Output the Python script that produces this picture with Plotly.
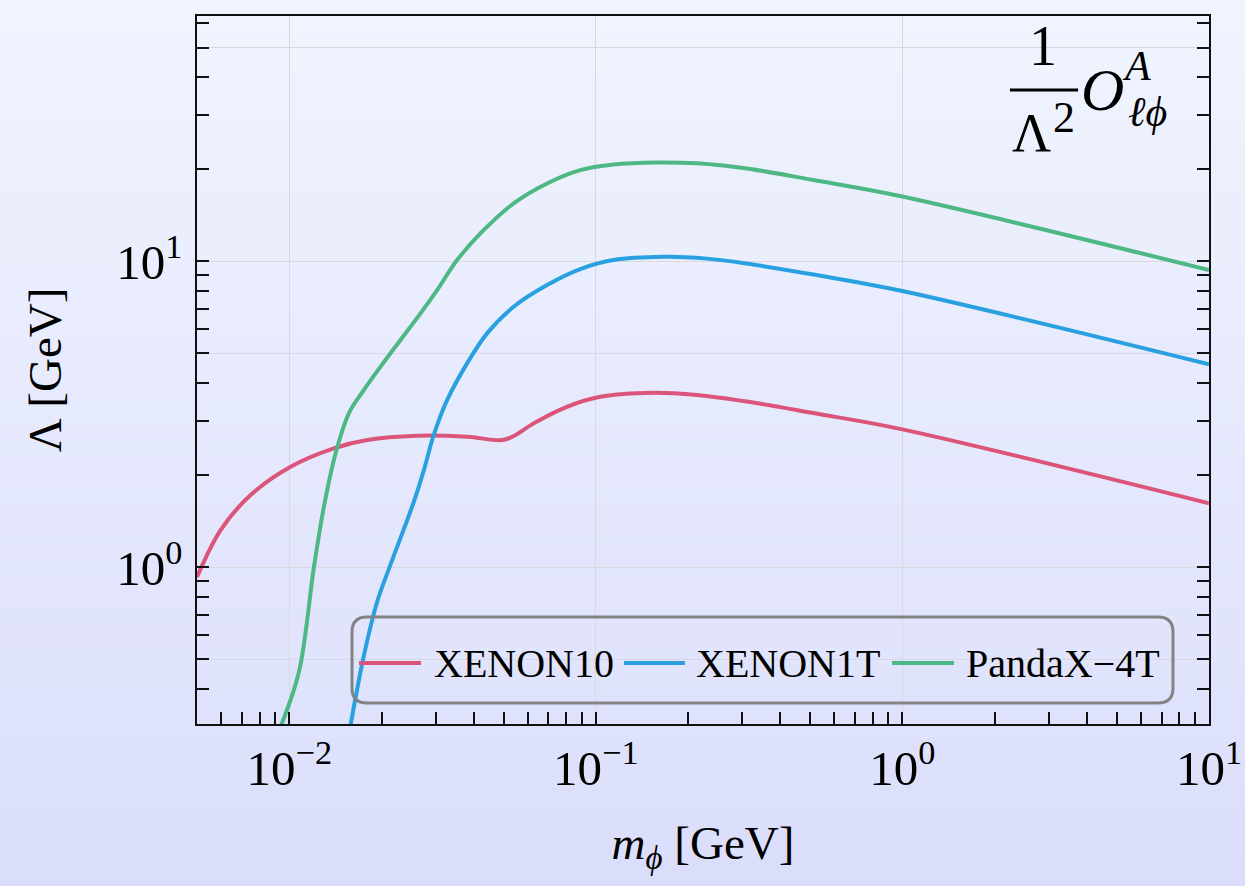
import numpy as np
import plotly.graph_objects as go

# ---------------- data ----------------
x_xenon10 = [0.005, 0.00597, 0.00748, 0.0101, 0.01397, 0.01795, 0.02613, 0.03802,
             0.04943, 0.05393, 0.06266, 0.08046, 0.1034, 0.1542, 0.2135, 0.3107, 0.5121, 0.9815,
             10.0]
y_xenon10 = [0.93, 1.324, 1.723, 2.132, 2.448, 2.606, 2.692, 2.672,
             2.606, 2.686, 2.955, 3.348, 3.610, 3.721, 3.658, 3.482, 3.193, 2.835,
             1.619]

x_xenon1t = [0.0158, 0.0175, 0.01935, 0.02122, 0.02547, 0.0276, 0.02958, 0.03272, 0.03802,
             0.04417, 0.05393, 0.06929, 0.08896, 0.1142, 0.1662, 0.2301, 0.3107, 0.5121,
             0.9815, 10.0]
y_xenon1t = [0.30, 0.513, 0.772, 1.0, 1.635, 2.111, 2.706, 3.522, 4.642,
             5.817, 7.107, 8.367, 9.437, 10.10, 10.35, 10.21, 9.835, 9.056,
             8.028, 4.607]

x_pandax = [0.00935, 0.01075, 0.01203, 0.01297, 0.01416, 0.01564, 0.0175, 0.01983, 0.02305,
            0.02679, 0.03035, 0.03527, 0.04201, 0.05393, 0.06929, 0.08896, 0.1142, 0.1581,
            0.2135, 0.3107, 0.5121, 0.9815, 10.0]
y_pandax = [0.30, 0.4548, 1.0, 1.578, 2.358, 3.186, 3.797, 4.523, 5.532,
            6.763, 8.058, 10.10, 12.35, 15.47, 17.98, 19.88, 20.75, 21.06,
            20.91, 20.11, 18.44, 16.35, 9.367]

series_names = ["XENON10", "XENON1T", "PandaX\u22124T"]
series_colors = ["#db5479", "#29a0df", "#4db884"]

x_major = [0.01, 0.1, 1, 10]
x_major_text = ["10<sup>\u22122</sup>", "10<sup>\u22121</sup>", "10<sup>0</sup>", "10<sup>1</sup>"]
x_minor = [m * d for d in (0.001, 0.01, 0.1, 1) for m in range(2, 10) if 0.005 <= m * d <= 10]

y_major = [1, 10]
y_major_text = ["10<sup>0</sup>", "10<sup>1</sup>"]
y_minor = [m * d for d in (0.1, 1, 10) for m in range(2, 10) if 0.3 <= m * d <= 63]
y_extra_grid = [0.5, 5, 50]

# ---------------- figure ----------------
W, H = 1245, 886
ML, MR, MT, MB = 197, 36, 16, 162
PW, PH = W - ML - MR, H - MT - MB

def px(xp):
    return (xp - ML) / PW

def py(yp):
    return (H - MB - yp) / PH

SERIF = "Liberation Serif, Times New Roman, DejaVu Serif, serif"

fig = go.Figure()
for name, xs, ys, col in zip(series_names, [x_xenon10, x_xenon1t, x_pandax],
                             [y_xenon10, y_xenon1t, y_pandax], series_colors):
    fig.add_trace(go.Scatter(x=xs, y=ys, mode="lines", name=name, showlegend=False,
                             line=dict(color=col, width=4, shape="spline", smoothing=1.0)))

shapes = []
# background gradient
top_c = np.array([240, 244, 254])
bot_c = np.array([219, 222, 251])
nb = 60
y_lo, y_hi = -MB / PH, 1 + MT / PH
for i in range(nb):
    t = i / (nb - 1)
    c = top_c * (1 - t) + bot_c * t
    y1 = y_hi - (y_hi - y_lo) * i / nb
    y0 = y_hi - (y_hi - y_lo) * (i + 1) / nb - 0.002
    shapes.append(dict(type="rect", xref="paper", yref="paper", x0=-ML / PW - 0.01, x1=1 + MR / PW + 0.01,
                       y0=y0, y1=y1, fillcolor=f"rgb({c[0]:.0f},{c[1]:.0f},{c[2]:.0f})",
                       line=dict(width=0), layer="below"))

# extra horizontal grid lines at 0.5, 5, 50
for g in y_extra_grid:
    shapes.append(dict(type="line", xref="paper", yref="y", x0=0, x1=1, y0=g, y1=g,
                       line=dict(color="#d8d9e0", width=1), layer="below"))

# legend frame (rounded)
x0, x1 = px(352), px(1173)
y0, y1 = py(703), py(617)
rx, ry = 15 / PW, 15 / PH
path = (f"M{x0+rx},{y0} L{x1-rx},{y0} Q{x1},{y0} {x1},{y0+ry} L{x1},{y1-ry} Q{x1},{y1} {x1-rx},{y1} "
        f"L{x0+rx},{y1} Q{x0},{y1} {x0},{y1-ry} L{x0},{y0+ry} Q{x0},{y0} {x0+rx},{y0} Z")
shapes.append(dict(type="path", xref="paper", yref="paper", path=path,
                   line=dict(color="#838383", width=3), fillcolor="rgba(0,0,0,0)"))

annotations = []
leg_y = py(663)
leg_lines = [(359, 421), (624, 685), (892, 954)]
leg_text_x = [432, 694, 964]
for (a, b), tx, name, col in zip(leg_lines, leg_text_x, series_names, series_colors):
    shapes.append(dict(type="line", xref="paper", yref="paper", x0=px(a), x1=px(b), y0=leg_y, y1=leg_y,
                       line=dict(color=col, width=4)))
    annotations.append(dict(xref="paper", yref="paper", x=px(tx), y=leg_y, xanchor="left", yanchor="middle",
                            text=name, showarrow=False, font=dict(size=40, family=SERIF, color="black")))

# fraction label  1/Λ² O^A_{ℓϕ}
shapes.append(dict(type="line", xref="paper", yref="paper", x0=px(1010), x1=px(1078), y0=py(90), y1=py(90),
                   line=dict(color="black", width=3)))
annotations += [
    dict(xref="paper", yref="paper", x=px(1043), y=py(46), text="1", showarrow=False,
         xanchor="center", yanchor="middle", font=dict(size=56, family=SERIF, color="black")),
    dict(xref="paper", yref="paper", x=px(1031), y=py(133), text="\u039b", showarrow=False,
         xanchor="center", yanchor="middle", font=dict(size=54, family=SERIF, color="black")),
    dict(xref="paper", yref="paper", x=px(1064), y=py(117), text="2", showarrow=False,
         xanchor="center", yanchor="middle", font=dict(size=44, family=SERIF, color="black")),
    dict(xref="paper", yref="paper", x=px(1102), y=py(90), text="<i>O</i>", showarrow=False,
         xanchor="center", yanchor="middle", font=dict(size=60, family=SERIF, color="black")),
    dict(xref="paper", yref="paper", x=px(1136), y=py(66), text="<i>A</i>", showarrow=False,
         xanchor="center", yanchor="middle", font=dict(size=42, family=SERIF, color="black")),
    dict(xref="paper", yref="paper", x=px(1147), y=py(112), text="<i>\u2113\u03d5</i>", showarrow=False,
         xanchor="center", yanchor="middle", font=dict(size=42, family=SERIF, color="black")),
]

axis_common = dict(
    type="log", ticks="inside", ticklen=12, tickwidth=1.5, tickcolor="#111",
    showline=True, linecolor="#111", linewidth=1.5,
    showgrid=True, gridcolor="#d8d9e0", gridwidth=1, zeroline=False,
    tickfont=dict(size=49, family=SERIF, color="black"), automargin=False,
)

fig.update_layout(
    width=W, height=H,
    margin=dict(l=ML, r=MR, t=MT, b=MB, autoexpand=False),
    paper_bgcolor="#e6e9fc", plot_bgcolor="rgba(0,0,0,0)",
    font=dict(family=SERIF, color="black"),
    xaxis=dict(**axis_common, range=[np.log10(0.005), 1.0], mirror=True,
               tickmode="array", tickvals=x_major, ticktext=x_major_text,
               minor=dict(tickmode="array", tickvals=x_minor, ticks="inside", ticklen=12,
                          tickwidth=1.5, tickcolor="#111", showgrid=False),
               title=dict(text="<i>m</i><sub><i>\u03d5</i></sub> [GeV]", standoff=32,
                          font=dict(size=47, family=SERIF, color="black"))),
    yaxis=dict(**axis_common, range=[-0.512, 1.802], mirror="ticks",
               tickmode="array", tickvals=y_major, ticktext=y_major_text,
               ticklabelstandoff=3,
               minor=dict(tickmode="array", tickvals=y_minor, ticks="inside", ticklen=12,
                          tickwidth=1.5, tickcolor="#111", showgrid=False),
               title=dict(text="\u039b [GeV]", standoff=40,
                          font=dict(size=47, family=SERIF, color="black"))),
    shapes=shapes, annotations=annotations, showlegend=False,
)

fig.write_html("out.html")
